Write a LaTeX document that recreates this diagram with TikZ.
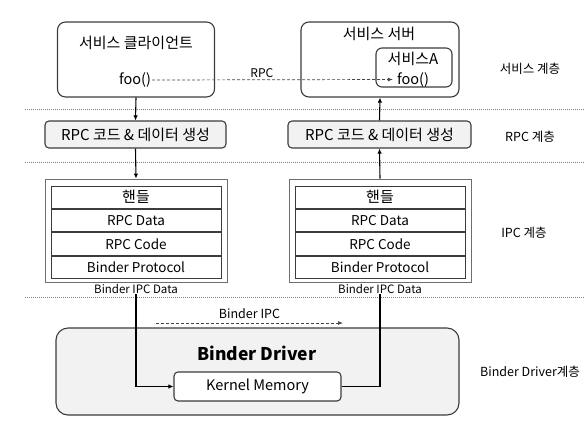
\documentclass[tikz,border=0pt]{standalone}
\usepackage{fontspec}
\setmainfont{Noto Sans CJK KR}
\usetikzlibrary{arrows.meta,positioning}
\begin{document}
\begin{tikzpicture}[x=1pt,y=1pt,yscale=-1,xscale=1,
  box/.style={draw={rgb, 255:red, 60; green, 60; blue, 60 },line width=1.1pt,rounded corners=8pt,inner sep=0pt},
  graybox/.style={box,fill={rgb, 255:red, 242; green, 242; blue, 242 },rounded corners=4pt},
  frame/.style={draw={rgb, 255:red, 110; green, 110; blue, 110 },line width=0.9pt,inner sep=0pt},
  row/.style={draw={rgb, 255:red, 60; green, 60; blue, 60 },line width=0.9pt,minimum width=170pt,minimum height=22.5pt,inner sep=0pt,font=\fontsize{13.5}{15}\selectfont},
  txt/.style={inner sep=1pt,font=\fontsize{14.5}{16}\selectfont},
  kor/.style={inner sep=1pt,font=\fontsize{15}{17}\selectfont},
  small/.style={inner sep=1pt,font=\fontsize{12}{14}\selectfont},
  side/.style={inner sep=1pt,font=\fontsize{12.5}{14}\selectfont},
  layer/.style={draw={rgb, 255:red, 0; green, 0; blue, 0 },draw opacity=0.5,line width=0.6pt,dash pattern=on 1pt off 1pt},
  link/.style={line width=1.1pt,-{Latex[length=5pt,width=4.5pt]}},
  msg/.style={draw={rgb, 255:red, 70; green, 70; blue, 70 },line width=0.7pt,dash pattern=on 3pt off 2pt,-{Latex[length=5pt,width=4pt]}}
]
\useasboundingbox (0,0) rectangle (585,426);

%Layer separators
\foreach \y in {109,162,297} \draw[layer] (25,\y) -- (585,\y);

%Service client
\node[box,minimum width=157pt,minimum height=75pt] (client) at (136,59.5) {};
\node[kor] (clientTitle) at (136,43) {서비스 클라이언트};
\node[txt] (clientFoo) at (135,80) {foo()};
%Service server
\node[box,minimum width=158pt,minimum height=75pt] (server) at (380,59.5) {};
\node[kor] (serverTitle) at (379,34) {서비스 서버};
\node[box,rounded corners=6pt,minimum width=76pt,minimum height=39pt] (svcA) at (414,67.5) {};
\node[kor] (svcATitle) at (413,59) {서비스A};
\node[txt] (svcAFoo) at (413,79.5) {foo()};

%RPC boxes
\node[graybox,minimum width=181pt,minimum height=27pt,kor] (rpcL) at (135.5,134.5) {RPC 코드 \& 데이터 생성};
\node[graybox,minimum width=183pt,minimum height=27pt,kor] (rpcR) at (379.5,134.5) {RPC 코드 \& 데이터 생성};

%IPC data (left)
\node[frame,minimum width=182pt,minimum height=103pt] (ipcL) at (136,230.5) {};
\node[row,below=7pt of ipcL.north,font=\fontsize{15}{17}\selectfont] (hL) {핸들};
\node[row,below=0pt of hL] (dL) {RPC Data};
\node[row,below=0pt of dL] (cL) {RPC Code};
\node[row,below=0pt of cL] (pL) {Binder Protocol};
\node[small,font=\fontsize{11.5}{13}\selectfont,fill=white,inner xsep=4pt] (lblL) at (136,288.5) {Binder IPC Data};
%IPC data (right)
\node[frame,minimum width=182pt,minimum height=103pt] (ipcR) at (380,230.5) {};
\node[row,below=7pt of ipcR.north,font=\fontsize{15}{17}\selectfont] (hR) {핸들};
\node[row,below=0pt of hR] (dR) {RPC Data};
\node[row,below=0pt of dR] (cR) {RPC Code};
\node[row,below=0pt of cR] (pR) {Binder Protocol};
\node[small,font=\fontsize{11.5}{13}\selectfont,fill=white,inner xsep=4pt] (lblR) at (380,288.5) {Binder IPC Data};

%Binder driver
\node[graybox,rounded corners=12pt,minimum width=403pt,minimum height=87pt] (driver) at (257.5,371.5) {};
\node[inner sep=1pt,font=\fontsize{17.5}{20}\selectfont\bfseries] (driverTitle) at (257,353) {Binder Driver};
\node[box,fill=white,rounded corners=4pt,minimum width=167pt,minimum height=29pt,txt] (kmem) at (257.5,386.5) {Kernel Memory};

%Layer labels
\node[side] (svcLayer) at (530,69) {서비스 계층};
\node[side] (rpcLayer) at (530,137) {RPC 계층};
\node[side] (ipcLayer) at (524,233) {IPC 계층};
\node[side] (drvLayer) at (530,372) {Binder Driver계층};

%Connectors
\draw[link] (client.south) -- (rpcL.north);
\draw[link] (rpcL.south) -- (ipcL.north);
\draw[link] (lblL.south) |- (kmem.west);
\draw[line width=1.1pt] (kmem.east) -| (lblR.south);
\draw[link] (ipcR.north) -- (rpcR.south);
\draw[link] (rpcR.north) -- (server.south);

%RPC message
\draw[msg,shorten >=3pt] (clientFoo.east) -- (svcAFoo.west) node[pos=0.45,above=1pt,small] (rpcLbl) {RPC};
%Binder IPC message
\coordinate (ipcFrom) at (156,323);
\coordinate (ipcTo) at (343,323);
\draw[msg] (ipcFrom) -- (ipcTo) node[midway,above=3pt,small,font=\fontsize{12.5}{14}\selectfont] (ipcLbl) {Binder IPC};
\end{tikzpicture}
\end{document}
